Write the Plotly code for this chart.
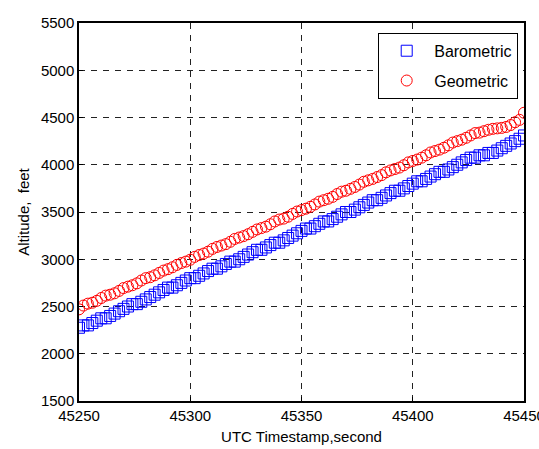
import plotly.graph_objects as go

timestamps = list(range(45250, 45451, 2))

barometric = [
    2275, 2300, 2300, 2325, 2350, 2375, 2375, 2400, 2425, 2450,
    2475, 2500, 2525, 2525, 2550, 2575, 2600, 2625, 2650, 2675,
    2700, 2700, 2725, 2750, 2775, 2800, 2800, 2825, 2850, 2875,
    2900, 2900, 2925, 2950, 2975, 2975, 3000, 3025, 3050, 3075,
    3100, 3100, 3125, 3150, 3175, 3175, 3200, 3225, 3250, 3275,
    3300, 3325, 3325, 3350, 3375, 3400, 3400, 3425, 3450, 3475,
    3500, 3500, 3525, 3550, 3575, 3600, 3625, 3625, 3650, 3675,
    3700, 3725, 3725, 3750, 3775, 3800, 3825, 3825, 3850, 3875,
    3900, 3925, 3925, 3950, 3975, 4000, 4025, 4050, 4075, 4075,
    4100, 4100, 4125, 4125, 4150, 4175, 4200, 4225, 4250, 4275,
    4310,
]

geometric = [
    2470, 2510, 2530, 2540, 2560, 2590, 2615, 2625, 2640, 2665,
    2695, 2710, 2725, 2745, 2775, 2800, 2810, 2830, 2855, 2880,
    2895, 2915, 2940, 2960, 2975, 2995, 3025, 3045, 3060, 3080,
    3110, 3130, 3145, 3160, 3185, 3215, 3230, 3245, 3265, 3290,
    3315, 3330, 3345, 3370, 3400, 3420, 3430, 3450, 3480, 3505,
    3520, 3535, 3555, 3580, 3610, 3625, 3640, 3660, 3690, 3715,
    3725, 3745, 3765, 3790, 3820, 3835, 3850, 3870, 3890, 3920,
    3940, 3955, 3970, 3995, 4025, 4040, 4055, 4075, 4100, 4130,
    4145, 4160, 4180, 4205, 4235, 4250, 4265, 4285, 4310, 4335,
    4340, 4355, 4370, 4380, 4385, 4390, 4400, 4420, 4450, 4475,
    4550,
]

x_ticks = [45250, 45300, 45350, 45400, 45450]
y_ticks = [1500, 2000, 2500, 3000, 3500, 4000, 4500, 5000, 5500]

FONT = "Liberation Sans, Arial, sans-serif"

fig = go.Figure()
fig.add_trace(go.Scatter(
    x=timestamps, y=barometric, mode="markers", name="Barometric", legendgroup="b",
    marker=dict(symbol="square-open", size=11, color="#0000ff", line=dict(width=1, color="#0000ff")),
))
fig.add_trace(go.Scatter(
    x=timestamps, y=geometric, mode="markers", name="Geometric", legendgroup="g",
    marker=dict(symbol="circle-open", size=11, color="#ff0000", line=dict(width=1, color="#ff0000")),
))

axis_common = dict(
    showline=True, linecolor="black", linewidth=1.5, mirror=True,
    showgrid=True, gridcolor="#222222", gridwidth=1, griddash="6px,6px",
    ticks="inside", ticklen=4, tickcolor="black",
    zeroline=False, ticklabeloverflow="allow", automargin=False,
    tickfont=dict(family=FONT, size=15, color="black"),
)

fig.update_layout(
    width=539, height=449,
    margin=dict(l=79, r=15, t=23, b=48),
    paper_bgcolor="white", plot_bgcolor="white",
    font=dict(family=FONT, size=15, color="black"),
    xaxis=dict(range=[45250, 45450], tickvals=x_ticks, ticktext=[str(v) for v in x_ticks],
               title=dict(text="UTC Timestamp,second", font=dict(family=FONT, size=15), standoff=9),
               **axis_common),
    yaxis=dict(range=[1500, 5500], tickvals=y_ticks, ticktext=[str(v) for v in y_ticks],
               title=dict(text="Altitude,  feet", font=dict(family=FONT, size=15), standoff=8),
               **axis_common),
    legend=dict(x=0.987, xanchor="right", y=0.974, yanchor="top",
                bgcolor="white", bordercolor="black", borderwidth=1,
                font=dict(family=FONT, size=16), itemwidth=45, tracegroupgap=6),
    showlegend=True,
)

fig.write_html("out.html")
